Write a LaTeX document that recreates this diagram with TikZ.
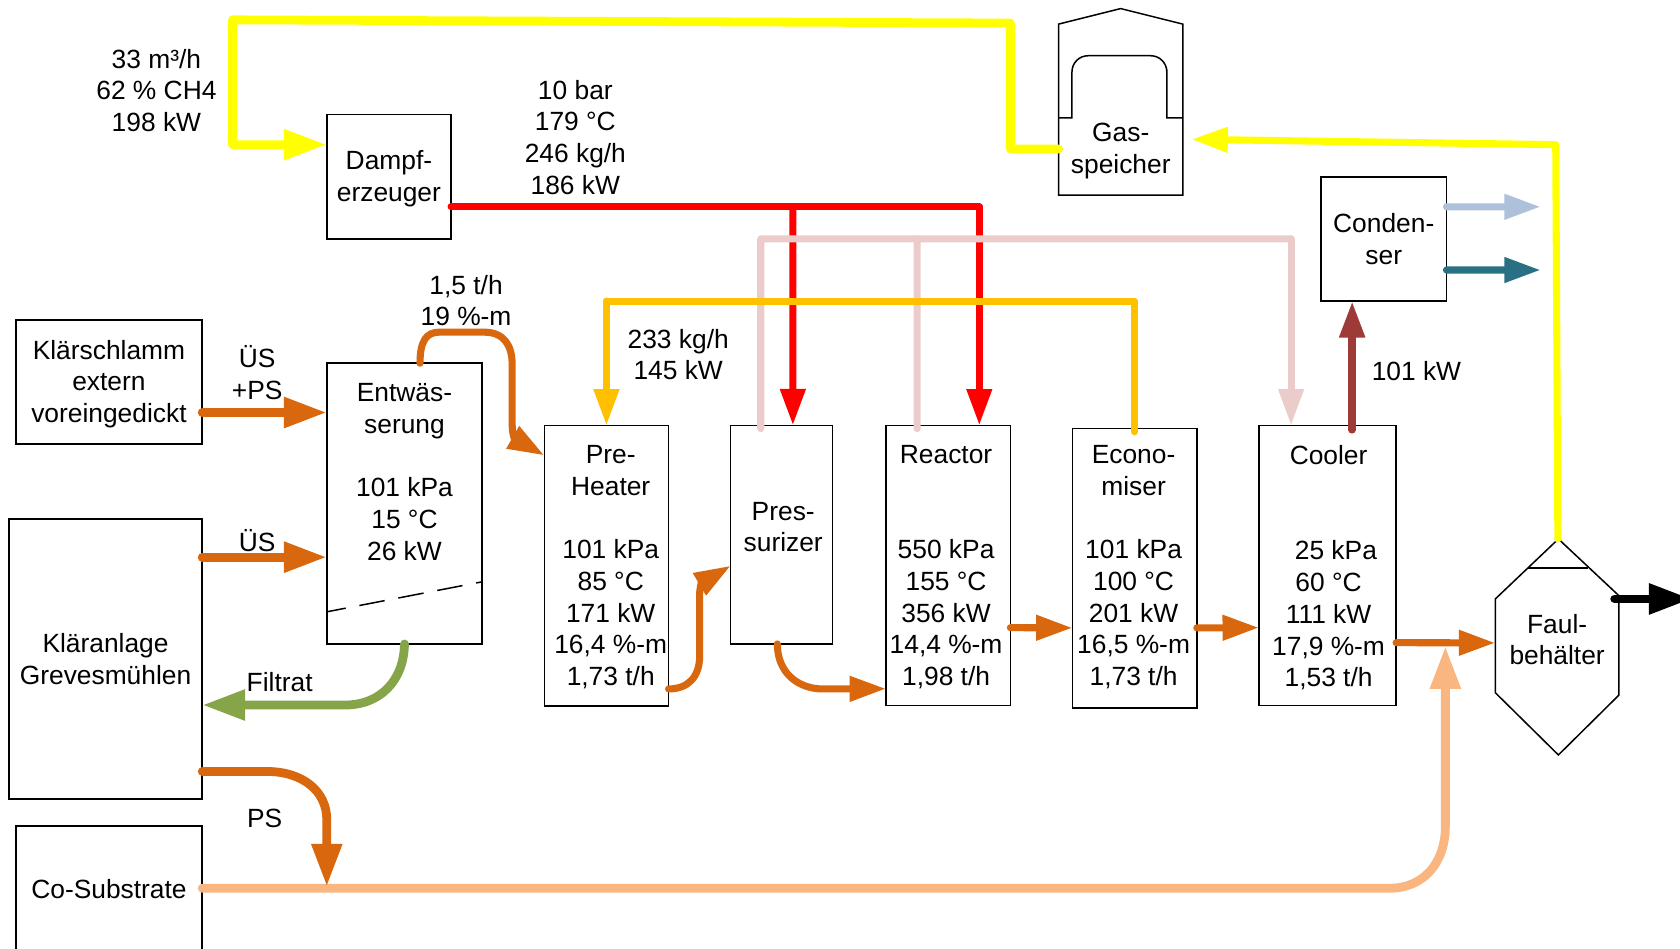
\documentclass[tikz,border=0pt]{standalone}
\usepackage{fontspec}
\setmainfont{Liberation Sans}
\usetikzlibrary{arrows.meta}
\definecolor{flow-orange}{HTML}{D9670D}
\definecolor{flow-yellow}{HTML}{FFFF00}
\definecolor{flow-red}{HTML}{FF0000}
\definecolor{flow-gold}{HTML}{FFC000}
\definecolor{flow-pink}{HTML}{ECCCCB}
\definecolor{flow-green}{HTML}{85A548}
\definecolor{flow-peach}{HTML}{F9B680}
\definecolor{flow-blue}{HTML}{AEC1DA}
\definecolor{flow-teal}{HTML}{2A7084}
\definecolor{flow-brown}{HTML}{9E3B38}
\tikzset{
  every node/.style={font=\fontsize{7}{8.42}\selectfont, align=center, inner sep=0pt, outer sep=0pt},
  box/.style={draw=black, line width=0.4pt},
  pipe/.style={line width=0.066cm, line cap=round, line join=round},
  pipethick/.style={line width=0.082cm, line cap=round, line join=round},
  flow/.style={pipe, -{Triangle[length=0.34cm, width=0.225cm]}},
  flowthick/.style={pipethick, -{Triangle[length=0.40cm, width=0.27cm]}}
}
\begin{document}
\begin{tikzpicture}

    % Background
    \useasboundingbox (0, 0) rectangle (15.68, -8.85);
    \fill[white] (0, 0) rectangle (15.68, -8.85);

    % Boxes
    \node[box, minimum width=1.74cm, minimum height=1.157cm] (schlamm) at (1.017, -3.565) {};
    \node[box, minimum width=1.805cm, minimum height=2.613cm] (klaer) at (0.985, -6.15) {Kläranlage\\Grevesmühlen};
    \node[box, minimum width=1.74cm, minimum height=1.18cm] (cosub) at (1.017, -8.30) {Co-Substrate};
    \node[box, minimum width=1.16cm, minimum height=1.16cm] (dampf) at (3.63, -1.65) {};
    \node[box, minimum width=1.45cm, minimum height=2.62cm] (entw) at (3.775, -4.70) {Entwäs-\\serung\\ \\101 kPa\\15 °C\\26 kW\\ \\ \mbox{}};
    \node[box, minimum width=1.16cm, minimum height=2.615cm] (pre) at (5.66, -5.28) {};
    \node[box, minimum width=0.95cm, minimum height=2.04cm] (pres) at (7.295, -4.99) {};
    \node[box, minimum width=1.16cm, minimum height=2.615cm] (react) at (8.85, -5.278) {};
    \node[box, minimum width=1.16cm, minimum height=2.61cm] (econ) at (10.59, -5.305) {};
    \node[box, minimum width=1.28cm, minimum height=2.615cm] (cool) at (12.39, -5.278) {};
    \node[box, minimum width=1.17cm, minimum height=1.16cm] (cond) at (12.915, -2.23) {Conden-\\ser};

    % Texts of the boxes that sit off centre
    \node (schlammtxt) at (1.017, -3.585) {Klärschlamm\\extern\\voreingedickt};
    \node (dampftxt) at (3.63, -1.67) {Dampf-\\erzeuger};
    \node (pretxt) at (5.70, -5.295) {Pre-\\Heater\\ \\101 kPa\\85 °C\\171 kW\\16,4 \%-m\\1,73 t/h};
    \node (prestxt) at (7.31, -4.92) {Pres-\\surizer};
    \node (reacttxt) at (8.83, -5.295) {Reactor\\ \\ \\550 kPa\\155 °C\\356 kW\\14,4 \%-m\\1,98 t/h};
    \node (econtxt) at (10.58, -5.295) {Econo-\\miser\\ \\101 kPa\\100 °C\\201 kW\\16,5 \%-m\\1,73 t/h};
    \node (cooltxt) at (12.40, -5.30) {Cooler\\ \\ \\\ \ 25 kPa\\60 °C\\111 kW\\17,9 \%-m\\1,53 t/h};

    % Filter line
    \draw[line width=0.4pt, dash pattern=on 0.24cm off 0.13cm, dash phase=0.06cm] (3.05, -5.71) -- (4.50, -5.43);

    % Gas holder
    \draw[line width=0.4pt] (9.88, -1.82) -- (9.88, -0.225) -- (10.46, -0.08) -- (11.04, -0.225) -- (11.04, -1.82) -- cycle;
    \draw[line width=0.4pt] (9.88, -1.10) -- (10.005, -1.10) -- (10.005, -0.80) [rounded corners=0.15cm] -- (10.005, -0.52) -- (10.89, -0.52) -- (10.89, -0.80) [sharp corners] -- (10.89, -1.10) -- (11.04, -1.10);
    \node[minimum width=1.16cm] (gas) at (10.46, -1.41) {Gas-\\speicher};

    % Digester
    \draw[line width=0.4pt] (14.545, -5.03) -- (13.956, -5.59) -- (13.956, -6.465) -- (14.545, -7.046) -- (15.11, -6.487) -- (15.11, -5.56) -- cycle;
    \draw[line width=0.4pt] (14.265, -5.30) -- (14.824, -5.30);
    \node[minimum width=1.155cm] (faul) at (14.533, -5.97) {Faul-\\behälter};

    % Free ends
    \coordinate (faultop) at (14.54, -5.03);
    \coordinate (faulout) at (15.07, -5.59);
    \coordinate (faulend) at (15.79, -5.59);
    \coordinate (psend) at (3.05, -8.275);
    \coordinate (mixend) at (13.49, -6.03);
    \coordinate (blueend) at (14.38, -1.93);
    \coordinate (tealend) at (14.38, -2.52);

    % Steam
    \draw[pipe, flow-red] ([yshift=-0.28cm]dampf.east) -- (9.14, -1.93);
    \draw[flow, flow-red] (7.40, -1.93) -- ([xshift=0.105cm]pres.north);
    \draw[flow, flow-red] (9.14, -1.93) -- ([xshift=0.29cm]react.north);

    % Condensate
    \draw[pipe, flow-pink] ([xshift=-0.195cm, yshift=-0.03cm]pres.north) -- (7.10, -2.23) -- (12.05, -2.23);
    \draw[pipe, flow-pink] ([xshift=-0.29cm, yshift=-0.03cm]react.north) -- (8.56, -2.23);
    \draw[flow, flow-pink] (12.05, -2.23) -- ([xshift=-0.34cm]cool.north);

    % Hot water
    \draw[pipe, flow-gold] ([yshift=-0.03cm]econ.north) -- (10.59, -2.81) -- (5.66, -2.81);
    \draw[flow, flow-gold] (5.66, -2.81) -- (pre.north);

    % Biogas
    \draw[pipethick, flow-yellow, -{Triangle[length=0.40cm, width=0.27cm]}] ([yshift=0.02cm]gas.west) -- (9.43, -1.39) -- (9.43, -0.215) -- (2.17, -0.185) -- (2.17, -1.35) -- ([yshift=0.30cm]dampf.west);
    \draw[flow, flow-yellow] (faultop) -- (14.52, -1.35) -- ([xshift=0.08cm, yshift=0.11cm]gas.east);

    % Sludge
    \draw[flowthick, flow-orange] ([yshift=-0.285cm]schlamm.east) -- ([yshift=0.85cm]entw.west);
    \draw[flowthick, flow-orange] ([yshift=0.95cm]klaer.east) -- ([yshift=-0.50cm]entw.west);
    \draw[flowthick, flow-green] (entw.south) .. controls (3.77, -6.35) and (3.55, -6.58) .. (3.22, -6.58) -- ([yshift=-0.43cm]klaer.east);
    \draw[flow, flow-orange] ([xshift=0.145cm]entw.north) .. controls (3.92, -3.18) and (3.98, -3.10) .. (4.10, -3.10) -- (4.52, -3.10) .. controls (4.70, -3.10) and (4.78, -3.22) .. (4.78, -3.40) -- (4.78, -3.95) .. controls (4.78, -4.05) and (4.80, -4.09) .. ([yshift=1.03cm]pre.west);
    \draw[flow, flow-orange] ([yshift=-1.15cm]pre.east) .. controls (6.42, -6.43) and (6.53, -6.32) .. (6.53, -6.12) -- (6.53, -5.55) .. controls (6.53, -5.48) and (6.55, -5.44) .. ([yshift=-0.29cm]pres.west);
    \draw[flow, flow-orange] ([xshift=-0.04cm]pres.south) .. controls (7.255, -6.28) and (7.45, -6.43) .. (7.68, -6.43) -- ([yshift=-1.15cm]react.west);
    \draw[flow, flow-orange] ([yshift=-0.58cm]react.east) -- ([yshift=-0.555cm]econ.west);
    \draw[flow, flow-orange] ([yshift=-0.555cm]econ.east) -- ([yshift=-0.58cm]cool.west);
    \draw[flow, flow-orange] ([yshift=-0.72cm]cool.east) -- ([yshift=-0.03cm]faul.west);

    % Co-substrate and primary sludge
    \draw[flowthick, flow-peach] ([yshift=0.01cm]cosub.east) -- (12.97, -8.29) .. controls (13.28, -8.29) and (13.49, -8.06) .. (13.49, -7.71) -- (mixend);
    \draw[flowthick, flow-orange] ([yshift=-1.05cm]klaer.east) -- (2.49, -7.20) .. controls (2.82, -7.20) and (3.05, -7.38) .. (3.05, -7.65) -- (psend);

    % Heat and outputs
    \draw[pipe, line width=0.072cm, flow-brown, -{Triangle[length=0.34cm, width=0.225cm]}] ([xshift=0.23cm, yshift=-0.04cm]cool.north) -- ([xshift=-0.295cm]cond.south);
    \draw[flow, flow-blue] ([yshift=0.30cm]cond.east) -- (blueend);
    \draw[flow, flow-teal] ([yshift=-0.29cm]cond.east) -- (tealend);
    \draw[flowthick, black] (faulout) -- (faulend);

    % Labels
    \node (gaslbl) at (1.46, -0.845) {33 m³/h\\62 \% CH4\\198 kW};
    \node (steamlbl) at (5.37, -1.28) {10 bar\\179 °C\\246 kg/h\\186 kW};
    \node (entwlbl) at (4.35, -2.805) {1,5 t/h\\19 \%-m};
    \node (hotlbl) at (6.33, -3.31) {233 kg/h\\145 kW};
    \node (heatlbl) at (13.22, -3.46) {101 kW};
    \node (uepslbl) at (2.40, -3.475) {ÜS\\+PS};
    \node (ueslbl) at (2.40, -5.05) {ÜS};
    \node (filtlbl) at (2.61, -6.37) {Filtrat};
    \node (pslbl) at (2.47, -7.64) {PS};

\end{tikzpicture}
\end{document}
